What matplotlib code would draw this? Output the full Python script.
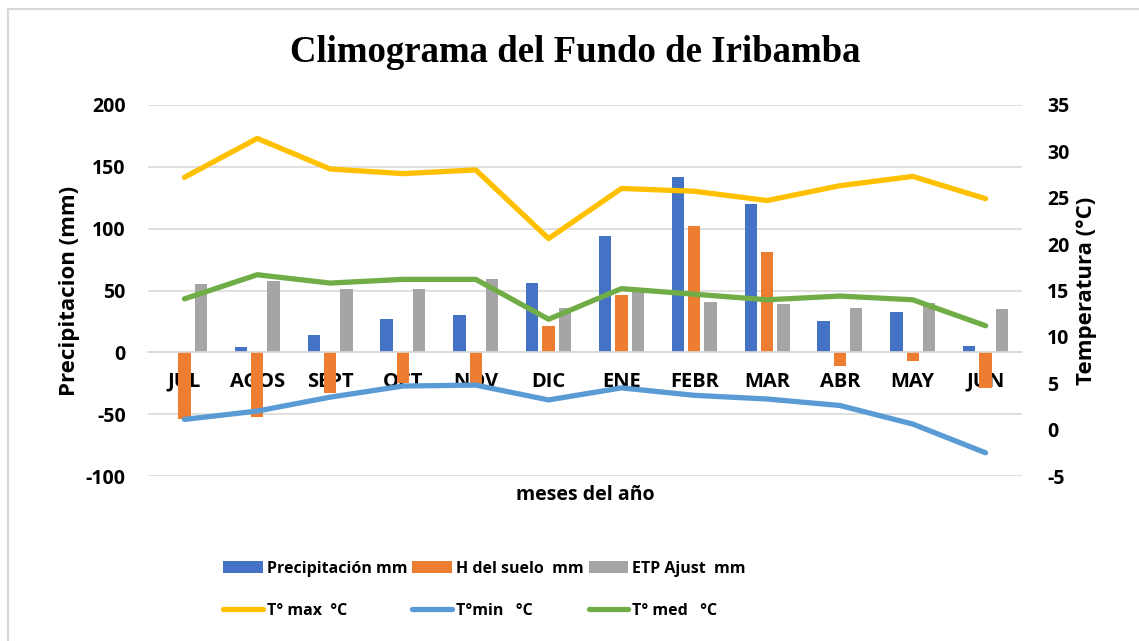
import numpy as np
import matplotlib.pyplot as plt
from matplotlib.patches import Rectangle

# Data
meses = ['JUL', 'AGOS', 'SEPT', 'OCT', 'NOV', 'DIC', 'ENE', 'FEBR', 'MAR', 'ABR', 'MAY', 'JUN']
precipitacion = [0, 4, 14, 27, 30, 56, 94, 142, 120, 25, 33, 5]
h_suelo = [-54, -52, -33, -25, -26, 21, 46, 102, 81, -11, -7, -29]
etp_ajust = [55, 58, 51, 51, 59, 36, 50, 41, 39, 36, 40, 35]
t_max = [27.2, 31.4, 28.1, 27.6, 28.0, 20.6, 26.0, 25.7, 24.7, 26.3, 27.3, 24.9]
t_min = [1.1, 2.0, 3.5, 4.7, 4.8, 3.2, 4.5, 3.7, 3.3, 2.6, 0.6, -2.5]
t_med = [14.1, 16.7, 15.8, 16.2, 16.2, 11.9, 15.2, 14.6, 14.0, 14.4, 14.0, 11.2]

plt.rcParams['font.family'] = ['Open Sans', 'DejaVu Sans']
plt.rcParams['font.weight'] = 'bold'
plt.rcParams['axes.unicode_minus'] = False

W, H = 1139, 641
fig = plt.figure(figsize=(W / 100, H / 100), dpi=100)

# chart area border
fig.patches.append(Rectangle((8 / W, -0.1), 1.2, 1 - 9 / H + 0.1, transform=fig.transFigure,
                             fill=False, edgecolor='#D9D9D9', linewidth=1.5))

ax = fig.add_axes([148 / W, 1 - 476 / H, 874 / W, 371 / H])
x = np.arange(len(meses))
bw = 0.17
step = 0.225
ax.bar(x - step, precipitacion, bw, color='#4472C4', label='Precipitación mm', zorder=2)
ax.bar(x, h_suelo, bw, color='#ED7D31', label='H del suelo  mm', zorder=2)
ax.bar(x + step, etp_ajust, bw, color='#A5A5A5', label='ETP Ajust  mm', zorder=2)

ax.set_xlim(-0.5, len(meses) - 0.5)
ax.set_ylim(-100, 200)
ax.set_yticks(range(-100, 201, 50))
ax.yaxis.grid(True, color='#D9D9D9', linewidth=1.2, zorder=0)
ax.set_axisbelow(True)
for s in ['top', 'right', 'left']:
    ax.spines[s].set_visible(False)
ax.spines['bottom'].set_position(('data', 0))
ax.spines['bottom'].set_color('#D9D9D9')
ax.spines['bottom'].set_linewidth(1.2)
ax.set_xticks(x)
ax.set_xticklabels(meses, fontweight='bold')
ax.tick_params(axis='x', length=0, pad=14, labelsize=14.5)
ax.tick_params(axis='y', length=0, pad=16, labelsize=14)
for t in ax.get_yticklabels():
    t.set_fontweight('bold')
ax.set_ylabel('Precipitacion (mm)', fontsize=16, fontweight='bold', labelpad=4)

ax2 = ax.twinx()
ax2.plot(x, t_max, color='#FFC000', lw=3.8, label='T° max  °C', solid_capstyle='round')
ax2.plot(x, t_min, color='#5B9BD5', lw=3.8, label='T°min   °C', solid_capstyle='round')
ax2.plot(x, t_med, color='#70AD47', lw=3.8, label='T° med   °C', solid_capstyle='round')
ax2.set_ylim(-5, 35)
ax2.set_yticks(range(-5, 36, 5))
for s in ax2.spines.values():
    s.set_visible(False)
ax2.tick_params(axis='y', length=0, pad=18, labelsize=14)
for t in ax2.get_yticklabels():
    t.set_fontweight('bold')
ax2.set_ylabel('Temperatura (°C)', fontsize=16, fontweight='bold', labelpad=5)

fig.text(0.505, 1 - 52 / H, 'Climograma del Fundo de Iribamba', ha='center', va='center',
         fontsize=26.5, fontweight='bold', family='Liberation Serif')
fig.text(585 / W, 1 - 495 / H, 'meses del año', ha='center', va='center',
         fontsize=14, fontweight='bold')

h1, l1 = ax.get_legend_handles_labels()
h2, l2 = ax2.get_legend_handles_labels()
handles = [h1[0], h2[0], h1[1], h2[1], h1[2], h2[2]]
labels = [l1[0], l2[0], l1[1], l2[1], l1[2], l2[2]]
fig.legend(handles, labels, ncol=3, loc='center left',
           bbox_to_anchor=(215 / W, 1 - 590 / H), frameon=False,
           prop={'size': 11.5, 'weight': 'bold'}, handlelength=2.5, handleheight=0.8,
           handletextpad=0.25, columnspacing=0.3, labelspacing=1.65, borderpad=0)

fig.savefig('out.png', dpi=100)
